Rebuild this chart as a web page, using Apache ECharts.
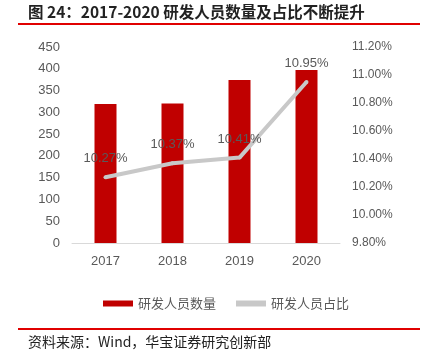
<!DOCTYPE html>
<html><head><meta charset="utf-8">
<script src="https://cdn.jsdelivr.net/npm/echarts@6/dist/echarts.min.js"></script>
<style>html,body{margin:0;padding:0;background:#fff}#c{width:422px;height:360px}</style>
</head><body><div id="c"></div>
<script>
var categories = ['2017', '2018', '2019', '2020'];
var staffCount = [319, 320, 374, 397];
var staffRatio = [10.27, 10.37, 10.41, 10.95];
var leftTicks = [0, 450, 50];
var rightTicks = [9.8, 11.2, 0.2];

var chart = echarts.init(document.getElementById('c'));
var font = '"Liberation Sans", Arial, sans-serif';
var cjk = '"Noto Sans CJK SC", sans-serif';
chart.setOption({
  animation: false,
  textStyle: {fontFamily: font},
  grid: {left: 72, right: 82, top: 47, bottom: 117},
  legend: {
    bottom: 45, left: 98, itemGap: 20,
    itemWidth: 30, itemHeight: 6,
    textStyle: {color: '#595959', fontSize: 13, fontFamily: cjk},
    data: [{name: '研发人员数量', icon: 'rect'}, {name: '研发人员占比', icon: 'rect', itemStyle: {color: '#c8c8c8', opacity: 1}}]
  },
  xAxis: {
    type: 'category', data: categories,
    axisLine: {lineStyle: {color: '#d9d9d9', width: 1}},
    axisTick: {show: false},
    axisLabel: {color: '#595959', fontSize: 13, margin: 12}
  },
  yAxis: [{
    type: 'value', min: leftTicks[0], max: leftTicks[1], interval: leftTicks[2],
    splitLine: {show: false}, axisLine: {show: false}, axisTick: {show: false},
    axisLabel: {color: '#595959', fontSize: 13, margin: 12}
  }, {
    type: 'value', min: rightTicks[0], max: rightTicks[1], interval: rightTicks[2],
    splitLine: {show: false}, axisLine: {show: false}, axisTick: {show: false},
    axisLabel: {color: '#595959', fontSize: 12, margin: 12,
      formatter: function (v) { return v.toFixed(2) + '%'; }}
  }],
  series: [{
    name: '研发人员数量', type: 'bar', data: staffCount, barWidth: 22,
    itemStyle: {color: '#c00000'}
  }, {
    name: '研发人员占比', type: 'line', yAxisIndex: 1, data: staffRatio,
    symbol: 'circle', symbolSize: 4, showSymbol: true, z: 5,
    lineStyle: {color: '#c8c8c8', width: 4}, itemStyle: {color: '#c8c8c8'},
    labelLayout: {hideOverlap: false},
    label: {show: true, position: 'top', distance: 10, color: '#595959', fontSize: 13, opacity: 1,
      formatter: function (p) { return Number(p.value).toFixed(2) + '%'; }}
  }],
  graphic: [
    {type: 'text', left: 28, top: 4, style: {text: '图 24：2017-2020 研发人员数量及占比不断提升',
      font: 'bold 15.5px ' + cjk, fill: '#222'}},
    {type: 'rect', shape: {x: 18, y: 23, width: 402, height: 2}, style: {fill: '#e00000'}},
    {type: 'rect', shape: {x: 18, y: 328, width: 402, height: 2}, style: {fill: '#e00000'}},
    {type: 'text', left: 28, top: 335, style: {text: '资料来源：Wind，华宝证券研究创新部',
      font: '14px ' + cjk, fill: '#222'}}
  ]
});
</script></body></html>
